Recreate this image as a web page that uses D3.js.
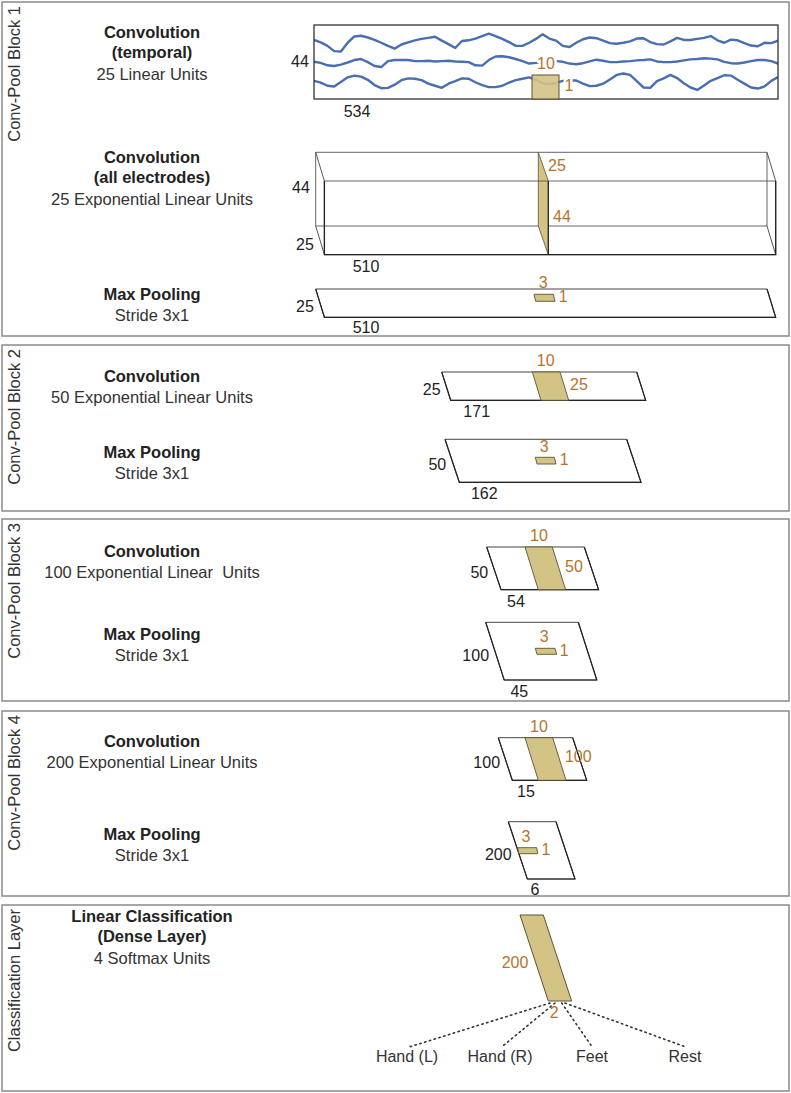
<!DOCTYPE html>
<html>
<head>
<meta charset="utf-8">
<script src="https://cdn.jsdelivr.net/npm/d3@7"></script>
<style>
  html, body { margin: 0; padding: 0; background: #fff; }
  svg { display: block; font-family: "Liberation Sans", Arial, sans-serif; }
</style>
</head>
<body>
<svg id="chart" width="791" height="1093"></svg>
<script>
// ---------------- DATA ----------------
const blockNames = ["Conv-Pool Block 1", "Conv-Pool Block 2", "Conv-Pool Block 3", "Conv-Pool Block 4", "Classification Layer"];

const layerTitles = [
  ["Convolution", "(temporal)"],
  ["Convolution", "(all electrodes)"],
  ["Max Pooling"],
  ["Convolution"],
  ["Max Pooling"],
  ["Convolution"],
  ["Max Pooling"],
  ["Convolution"],
  ["Max Pooling"],
  ["Linear Classification", "(Dense Layer)"]
];
const layerSubtitles = [
  "25 Linear Units",
  "25 Exponential Linear Units",
  "Stride 3x1",
  "50 Exponential Linear Units",
  "Stride 3x1",
  "100 Exponential Linear  Units",
  "Stride 3x1",
  "200 Exponential Linear Units",
  "Stride 3x1",
  "4 Softmax Units"
];

// feature map size labels
const mapHeights = ["44", "25", "25", "25", "50", "50", "100", "100", "200", "200"];
const mapWidths  = ["534", "510", "510", "171", "162", "54", "45", "15", "6", ""];
// kernel size labels: [top label, side label]
const kernelTop  = ["10", "25", "3", "10", "3", "10", "3", "10", "3", "200"];
const kernelSide = ["1", "44", "1", "25", "1", "50", "1", "100", "1", "2"];

const classes = ["Hand (L)", "Hand (R)", "Feet", "Rest"];

// EEG example signals (3 electrodes, 70 samples, arbitrary amplitude units)
const eegChannels = ["ch1", "ch2", "ch3"];
const eeg1 = [5,-2,-12,-27,-28,-3,15,17,12,5,-3,-12,-20,-8,-2,4,8,11,14,3,-7,-18,2,4,9,16,23,16,8,-1,-12,-12,-3,8,21,9,3,-12,-15,-3,7,12,10,3,-4,-6,-3,1,9,10,-1,-7,-8,1,11,5,5,8,11,16,4,-3,6,4,-4,-11,-13,-3,-4,3];
const eeg2 = [2,-1,-8,-10,-6,0,7,10,1,-10,-13,4,7,7,7,4,4,5,3,4,5,3,2,1,-8,-9,7,17,18,15,10,4,-3,-1,2,4,4,2,-3,-5,-2,3,8,5,1,1,3,4,6,7,9,3,1,1,3,6,9,10,12,11,9,2,-2,-3,0,4,7,7,4,-3];
const eeg3 = [7,2,-7,-9,4,17,22,19,10,-5,-14,-13,-4,9,14,13,9,-1,-7,-13,-1,6,14,13,3,-5,-11,-11,-7,2,9,13,17,10,0,-2,1,7,8,8,-1,-8,-7,-1,11,24,28,24,6,-12,-13,6,14,24,15,0,-12,-19,-6,7,15,23,22,10,-1,-12,-15,-9,7,18];

// ---------------- STYLE / LAYOUT ----------------
const C = {
  frame: "#8a8a8a",
  text: "#222",
  sub: "#333",
  orange: "#b5742c",
  tan: "#d3c385",
  tanStroke: "#5c5232",
  blue: "#4a6eb2",
  edge: "#222"
};
const FS_DESC = 16.5;
const FS_NUM = 16;
const FS_BLOCK = 16.5;

const svg = d3.select("#chart");

// block frames
const frames = [
  {y0: 2, y1: 336}, {y0: 345, y1: 511}, {y0: 519, y1: 701}, {y0: 711, y1: 896}, {y0: 905, y1: 1091}
];
const gFrames = svg.append("g");
gFrames.selectAll("rect").data(frames).join("rect")
  .attr("x", 2).attr("y", d => d.y0)
  .attr("width", 787).attr("height", d => d.y1 - d.y0)
  .attr("fill", "none").attr("stroke", C.frame).attr("stroke-width", 1.5);

gFrames.selectAll("text").data(blockNames).join("text")
  .attr("transform", (d, i) => `translate(19.5,${frames[i].y0 + 4}) rotate(-90)`)
  .attr("text-anchor", "end")
  .attr("font-size", FS_BLOCK)
  .attr("fill", C.sub)
  .text(d => d);

// left descriptions
const titleBaselines = [38, 163, 300, 382, 458, 557, 640, 747, 840, 922];
const gDesc = svg.append("g").attr("text-anchor", "middle");
layerTitles.forEach((lines, i) => {
  lines.forEach((t, j) => {
    gDesc.append("text")
      .attr("x", 152).attr("y", titleBaselines[i] + j * 19.5)
      .attr("font-size", FS_DESC).attr("font-weight", "bold").attr("fill", C.text)
      .text(t);
  });
  const subGap = lines.length > 1 ? 42 : 21;
  gDesc.append("text")
    .attr("x", 152).attr("y", titleBaselines[i] + subGap)
    .attr("font-size", FS_DESC).attr("fill", C.sub)
    .style("white-space", "pre")
    .text(layerSubtitles[i]);
});

// helpers
const line = d3.line();
function para(x, y, w, h, s) {
  return [[x, y], [x + w, y], [x + w + s, y + h], [x + s, y + h]];
}
function poly(g, pts, fill, stroke, sw) {
  return g.append("path").attr("d", line(pts) + "Z")
    .attr("fill", fill).attr("stroke", stroke).attr("stroke-width", sw)
    .attr("stroke-linejoin", "round");
}
function label(g, x, y, t, color, halo) {
  const el = g.append("text").attr("x", x).attr("y", y)
    .attr("text-anchor", "middle").attr("font-size", FS_NUM).attr("fill", color).text(t);
  if (halo) el.attr("stroke", "#fff").attr("stroke-width", 5).attr("paint-order", "stroke").attr("stroke-linejoin", "round");
  return el;
}

const gShapes = svg.append("g");

// ---- Layer 0: EEG input with temporal kernel ----
const eegBox = {x: 314, y: 25, w: 464, h: 74};
const xT = d3.scaleLinear().domain([0, eeg1.length - 1]).range([eegBox.x, eegBox.x + eegBox.w]);
const yCh = d3.scalePoint().domain(eegChannels).range([41.7, 83.3]);
const yAmp = d3.scaleLinear().domain([-30, 30]).range([10.5, -10.5]);
svg.append("clipPath").attr("id", "eegClip").append("rect")
  .attr("x", eegBox.x).attr("y", eegBox.y).attr("width", eegBox.w).attr("height", eegBox.h);
const gEeg = gShapes.append("g");
const eegSeries = [eeg1, eeg2, eeg3];
const eegLine = d3.line().curve(d3.curveLinear);
gEeg.append("g").attr("clip-path", "url(#eegClip)")
  .selectAll("path").data(eegSeries).join("path")
  .attr("d", (vals, k) => eegLine(vals.map((v, i) => [xT(i), yCh(eegChannels[k]) + yAmp(v)])))
  .attr("fill", "none").attr("stroke", C.blue).attr("stroke-width", 2.4).attr("stroke-linejoin", "round");
gEeg.append("rect").attr("x", eegBox.x).attr("y", eegBox.y).attr("width", eegBox.w).attr("height", eegBox.h)
  .attr("fill", "none").attr("stroke", C.edge).attr("stroke-width", 1.2);
gEeg.append("rect").attr("x", 532).attr("y", 75).attr("width", 27).attr("height", 24)
  .attr("fill", C.tan).attr("fill-opacity", 0.9).attr("stroke", C.tanStroke).attr("stroke-width", 1);
label(gEeg, 300, 67, mapHeights[0], C.text);
label(gEeg, 357, 117, mapWidths[0], C.text);
label(gEeg, 546, 69, kernelTop[0], C.orange, true);
label(gEeg, 569, 91, kernelSide[0], C.orange, true);

// ---- Layer 1: 3D box (spatial conv) ----
const box = {x: 315.7, y: 152.3, w: 451.3, h: 73.7, dx: 8.7, dy: 28.7};
const gBox = gShapes.append("g").attr("fill", "none");
const bx = box.x, by = box.y, bw = box.w, bh = box.h, dx = box.dx, dy = box.dy;
poly(gBox, [[bx, by], [bx + bw, by], [bx + bw, by + bh], [bx, by + bh]], "none", "#555", 0.9);
poly(gBox, [[538.3, by], [548.3, by + dy], [548.3, by + dy + bh], [538.3, by + bh]], C.tan, C.tanStroke, 0.8);
gBox.append("path").attr("d", line([[548.3, by + dy], [548.3, by + dy + bh]])).attr("stroke", C.edge).attr("stroke-width", 1.2);
[[bx, by], [bx + bw, by], [bx + bw, by + bh], [bx, by + bh]].forEach(p => {
  gBox.append("path").attr("d", line([p, [p[0] + dx, p[1] + dy]])).attr("stroke", "#444").attr("stroke-width", 0.9);
});
poly(gBox, [[bx + dx, by + dy], [bx + bw + dx, by + dy], [bx + bw + dx, by + bh + dy], [bx + dx, by + bh + dy]], "none", "#555", 0.9);
gBox.append("path").attr("d", line([[bx + dx, by + dy], [bx + dx, by + bh + dy], [bx + bw + dx, by + bh + dy], [bx + bw + dx, by + dy]]))
  .attr("stroke", C.edge).attr("stroke-width", 1.3);
label(gShapes, 301, 193, mapHeights[0], C.text);
label(gShapes, 305, 250, mapHeights[1], C.text);
label(gShapes, 366, 272, mapWidths[1], C.text);
label(gShapes, 557, 171, kernelTop[1], C.orange);
label(gShapes, 562, 222, kernelSide[1], C.orange);

// ---- Flat parallelogram layers ----
const flats = [
  {i: 2, m: [315.7, 289, 451.3, 28.3, 8.7], k: [534, 294.3, 19.3, 7, 1.7],
   h: [305, 312], w: [366, 333], kt: [543.3, 288.3], ks: [563.3, 302]},
  {i: 3, m: [441.7, 372, 195, 28.3, 9], k: [532.3, 372, 27.7, 28.3, 8.7],
   h: [431.7, 395], w: [476.7, 417], kt: [545.7, 366], ks: [579, 390]},
  {i: 4, m: [445, 439.3, 181.7, 43, 14.3], k: [535.3, 457.3, 19, 6.7, 1.7],
   h: [437.3, 470], w: [484.3, 499], kt: [544.3, 451.7], ks: [564.3, 465]},
  {i: 5, m: [486.7, 547, 97.6, 42.7, 14.3], k: [525, 547, 27.3, 42.7, 13.3],
   h: [479.3, 577.7], w: [516, 606.7], kt: [539, 541], ks: [574, 572.3]},
  {i: 6, m: [485.7, 622.3, 92.6, 57.7, 18.5], k: [535.3, 648.3, 19.7, 6, 1.7],
   h: [475.7, 660.7], w: [519.3, 696.7], kt: [544.3, 642.3], ks: [564.3, 655.7]},
  {i: 7, m: [498.3, 737.7, 74.4, 42.6, 14], k: [525, 737.7, 27.7, 42.6, 13.3],
   h: [486.7, 768.3], w: [526, 796.7], kt: [539, 731.7], ks: [578.3, 762.3]},
  {i: 8, m: [508.3, 821.7, 47.7, 57.3, 19], k: [517.7, 847.7, 19, 6, 1],
   h: [498.3, 860], w: [535, 894.5], kt: [526, 841.7], ks: [546, 855]}
];
flats.forEach(f => {
  const g = gShapes.append("g");
  const pts = para(...f.m);
  poly(g, pts, "#fff", "#444", 1);
  g.append("path").attr("d", line([pts[1], pts[2], pts[3], pts[0]])).attr("fill", "none")
    .attr("stroke", C.edge).attr("stroke-width", 1.2);
  poly(g, para(...f.k), C.tan, C.tanStroke, 0.9);
  label(g, f.h[0], f.h[1], mapHeights[f.i], C.text);
  label(g, f.w[0], f.w[1], mapWidths[f.i], C.text);
  label(g, f.kt[0], f.kt[1], kernelTop[f.i], C.orange);
  label(g, f.ks[0], f.ks[1], kernelSide[f.i], C.orange);
});

// ---- Dense layer ----
const gDense = gShapes.append("g");
const starts = [[550, 1003], [555, 1003], [561.7, 1003], [565, 1003]];
const classX = {"Hand (L)": 407, "Hand (R)": 500, "Feet": 592, "Rest": 685};
const classEnd = {"Hand (L)": 410, "Hand (R)": 502, "Feet": 592, "Rest": 685};
gDense.selectAll("path.conn").data(classes).join("path").attr("class", "conn")
  .attr("d", (c, i) => line([starts[i], [classEnd[c], 1046.7]]))
  .attr("fill", "none").attr("stroke", "#333").attr("stroke-width", 1.6)
  .attr("stroke-dasharray", "1.4,3.6").attr("stroke-linecap", "round");
poly(gDense, para(520, 915, 23.3, 86, 28.3), C.tan, C.tanStroke, 1);
label(gDense, 515, 968.3, kernelTop[9], C.orange);
label(gDense, 554.3, 1018.3, kernelSide[9], C.orange);
gDense.selectAll("text.cls").data(classes).join("text").attr("class", "cls")
  .attr("x", c => classX[c]).attr("y", 1061.7)
  .attr("text-anchor", "middle").attr("font-size", FS_NUM).attr("fill", C.sub)
  .text(c => c);
</script>
</body>
</html>
